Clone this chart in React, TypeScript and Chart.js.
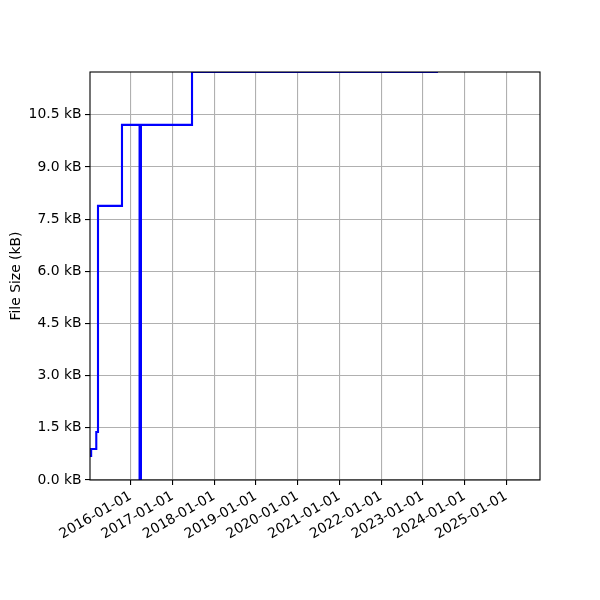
import React, { useEffect, useRef } from 'react';
import { Chart, registerables } from 'chart.js';

Chart.register(...registerables);

const dates = [
  '2015-01-10', '2015-01-20', '2015-03-06', '2015-03-21', '2015-10-17',
  '2016-03-19', '2016-03-31', '2017-06-21', '2023-05-14',
];
const sizesKB = [0.69, 0.89, 1.38, 7.88, 10.21, 0, 10.21, 11.73, 11.73];
const yTicks = [0, 1.5, 3, 4.5, 6, 7.5, 9, 10.5];
const xTickYears = [2016, 2017, 2018, 2019, 2020, 2021, 2022, 2023, 2024, 2025];
const xMinDate = '2015-01-10';
const xMaxDate = '2025-10-23';
const yMax = 11.73;

const ts = (d: string) => Date.parse(d + 'T00:00:00Z');
const FONT = { family: 'DejaVu Sans', size: 13.9 };

const frame = {
  id: 'frame',
  afterDatasetsDraw(chart: any) {
    const { ctx, chartArea } = chart;
    ctx.save();
    ctx.strokeStyle = '#000';
    ctx.lineWidth = 1.1;
    ctx.strokeRect(chartArea.left, chartArea.top, chartArea.right - chartArea.left, chartArea.bottom - chartArea.top);
    ctx.restore();
  },
};

export default function App() {
  const ref = useRef<HTMLCanvasElement>(null);
  useEffect(() => {
    document.body.style.margin = '0';
    const chart = new Chart(ref.current!, {
      type: 'line',
      data: {
        datasets: [
          {
            data: dates.map((d, i) => ({ x: ts(d), y: sizesKB[i] })),
            borderColor: '#0000ff',
            borderWidth: 2.1,
            pointRadius: 0,
            stepped: true,
            fill: false,
            clip: 0,
          } as any,
        ],
      },
      options: {
        animation: false,
        responsive: false,
        layout: { padding: { left: 0, top: 72, right: 60, bottom: 0 } },
        plugins: { legend: { display: false }, tooltip: { enabled: false } },
        scales: {
          x: {
            type: 'linear',
            min: ts(xMinDate),
            max: ts(xMaxDate),
            afterBuildTicks: (s: any) => {
              s.ticks = xTickYears.map((y) => ({ value: Date.UTC(y, 0, 1) }));
            },
            afterFit: (s: any) => {
              s.height = 120;
            },
            grid: { color: '#b0b0b0', lineWidth: 1.1, tickColor: '#000', tickLength: 5 },
            border: { display: false },
            ticks: {
              autoSkip: false,
              minRotation: 30,
              maxRotation: 30,
              padding: 3,
              color: '#000',
              font: FONT,
              callback: (v: any) => new Date(v).toISOString().slice(0, 10),
            },
          },
          y: {
            type: 'linear',
            min: 0,
            max: yMax,
            afterBuildTicks: (s: any) => {
              s.ticks = yTicks.map((v) => ({ value: v }));
            },
            afterFit: (s: any) => {
              s.width = 90;
            },
            grid: { color: '#b0b0b0', lineWidth: 1.1, tickColor: '#000', tickLength: 5 },
            border: { display: false },
            ticks: {
              padding: 3.5,
              color: '#000',
              font: FONT,
              callback: (v: any) => Number(v).toFixed(1) + ' kB',
            },
            title: {
              display: true,
              text: 'File Size (kB)',
              color: '#000',
              font: FONT,
              padding: { top: 8.5, bottom: 0 },
            },
          },
        },
      },
      plugins: [frame],
    });
    return () => chart.destroy();
  }, []);
  return (
    <div style={{ position: 'absolute', left: 0, top: 0 }}>
      <canvas ref={ref} width={600} height={600} />
    </div>
  );
}
